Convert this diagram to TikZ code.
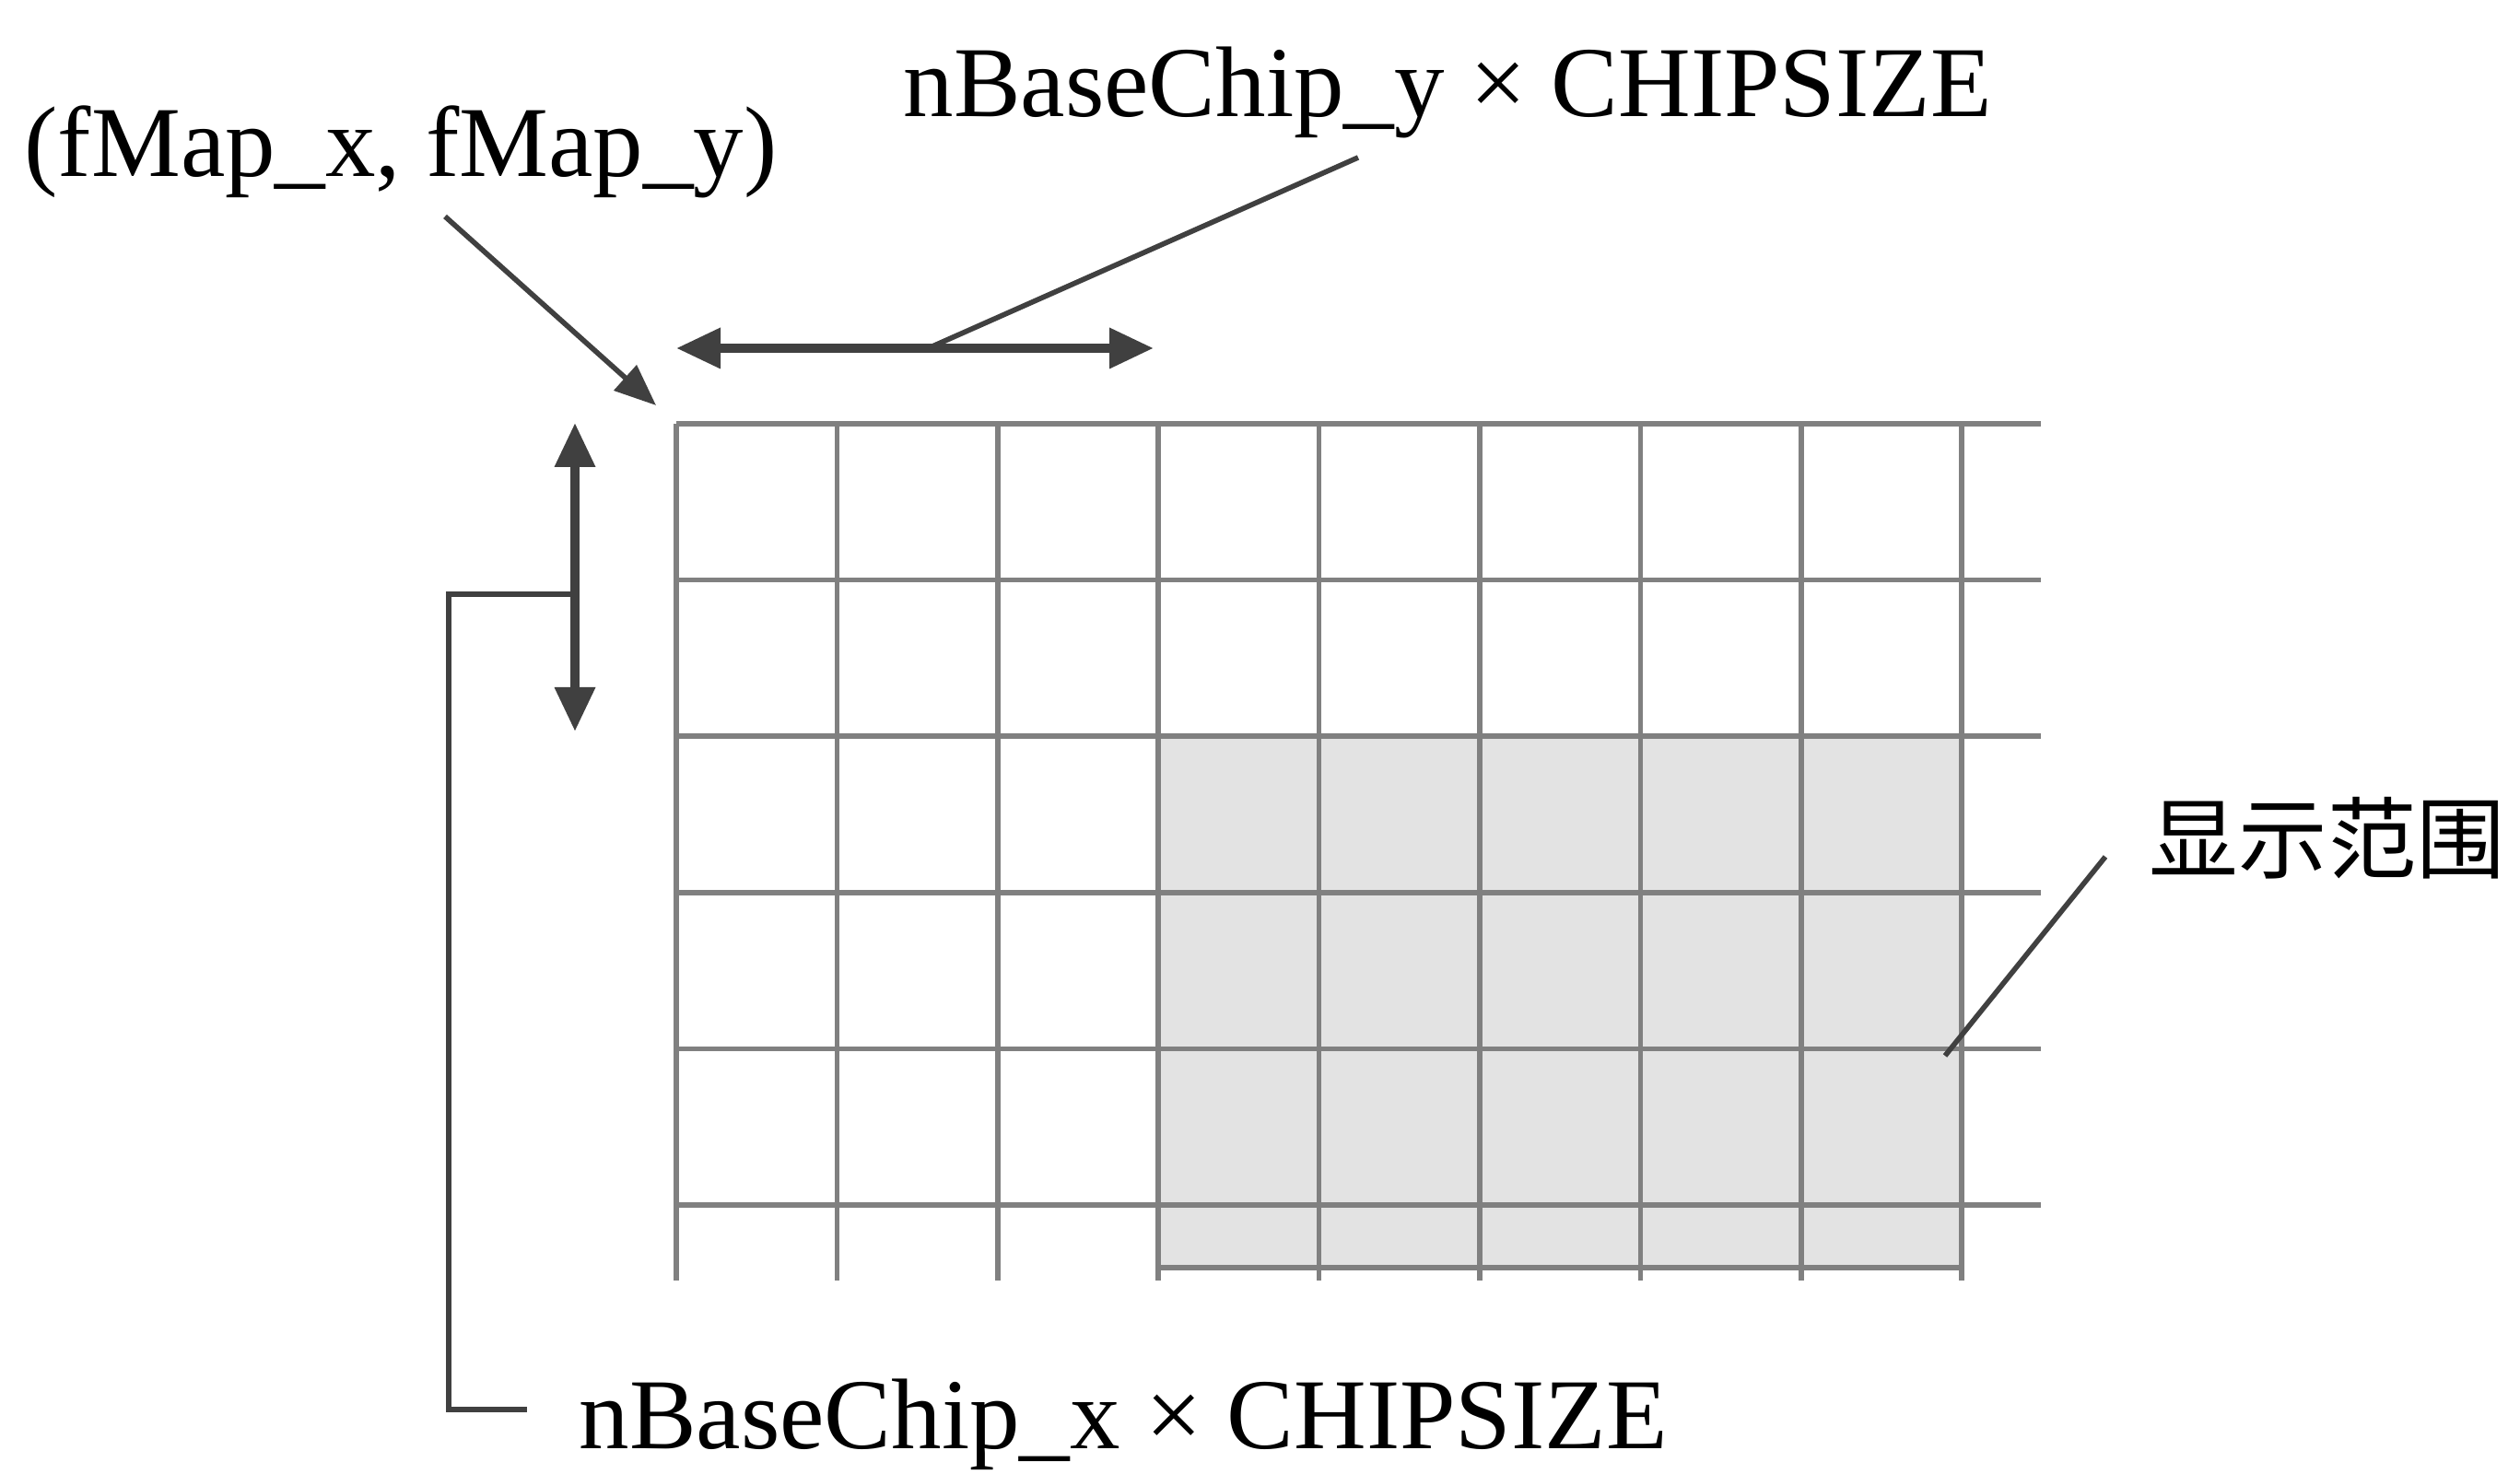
\documentclass[tikz,border=0pt]{standalone}
\usepackage{fontspec}
\setmainfont{Liberation Serif}
\newfontfamily\cjk{Noto Sans CJK SC}
\usetikzlibrary{positioning, calc, arrows.meta}

\begin{document}
\begin{tikzpicture}[
		% --- ESTILOS ---
		label_text/.style={
			font=\fontsize{31}{36}\selectfont,
			inner sep=0pt,
			anchor=base west
		},
		cjk_text/.style={
			font=\cjk\fontsize{27.5}{30}\selectfont,
			inner sep=0pt,
			anchor=west
		},
		grid_line/.style={
			draw=black!50,
			line width=1.6pt
		},
		dim_arrow/.style={
			{Triangle[length=0.48cm, width=0.42cm]}-{Triangle[length=0.48cm, width=0.42cm]},
			line width=2.8pt,
			draw=black!75
		},
		lead_line/.style={
			line width=1.6pt,
			draw=black!75
		}
		]
		\useasboundingbox (0,0) rectangle (27.35,16);
		
		% --- DISPLAY RANGE (shaded) ---
		\fill [black!11] (12.572,8.008) rectangle (21.292,2.24);
		
		% --- GRID ---
		\foreach \i in {0,...,8}
			\draw [grid_line] (7.34+\i*1.744, 11.40) -- (7.34+\i*1.744, 2.10);
		\foreach \j in {0,...,5}
			\draw [grid_line] (7.34, 11.40-\j*1.696) -- (22.15, 11.40-\j*1.696);
		\draw [grid_line] (12.572,2.24) -- (21.292,2.24);
		
		% --- LABELS ---
		\node (origin) [label_text] at (0.26,14.08) {(fMap\_x, fMap\_y)};
		\node (width) [label_text] at (9.80,14.73) {nBaseChip\_y × CHIPSIZE};
		\node (height) [label_text] at (6.28,0.27) {nBaseChip\_x × CHIPSIZE};
		\node (range) [cjk_text] at (23.32,6.90) {显示范围};
		
		% --- END POINTS ---
		\coordinate (corner) at (7.12,11.60);
		\coordinate (origin_foot) at (4.83,13.65);
		\coordinate (w_left) at (7.34,12.22);
		\coordinate (w_right) at (12.52,12.22);
		\coordinate (w_mid) at (10.12,12.24);
		\coordinate (width_foot) at (14.74,14.29);
		\coordinate (h_top) at (6.24,11.41);
		\coordinate (h_bottom) at (6.24,8.06);
		\coordinate (h_mid) at (6.24,9.55);
		\coordinate (height_foot) at (5.72,0.70);
		\coordinate (range_foot) at (22.85,6.70);
		\coordinate (range_tip) at (21.11,4.54);
		
		% --- DIMENSIONS ---
		\draw [dim_arrow] (w_left) -- (w_right);
		\draw [dim_arrow] (h_top) -- (h_bottom);
		
		% --- LEADERS ---
		\draw [lead_line, -{Triangle[length=0.45cm, width=0.36cm]}] (origin_foot) -- (corner);
		\draw [lead_line] (width_foot) -- (w_mid);
		\draw [lead_line] (h_mid) -| (4.87,0.70) -- (height_foot);
		\draw [lead_line] (range_foot) -- (range_tip);
		
	\end{tikzpicture}
\end{document}
